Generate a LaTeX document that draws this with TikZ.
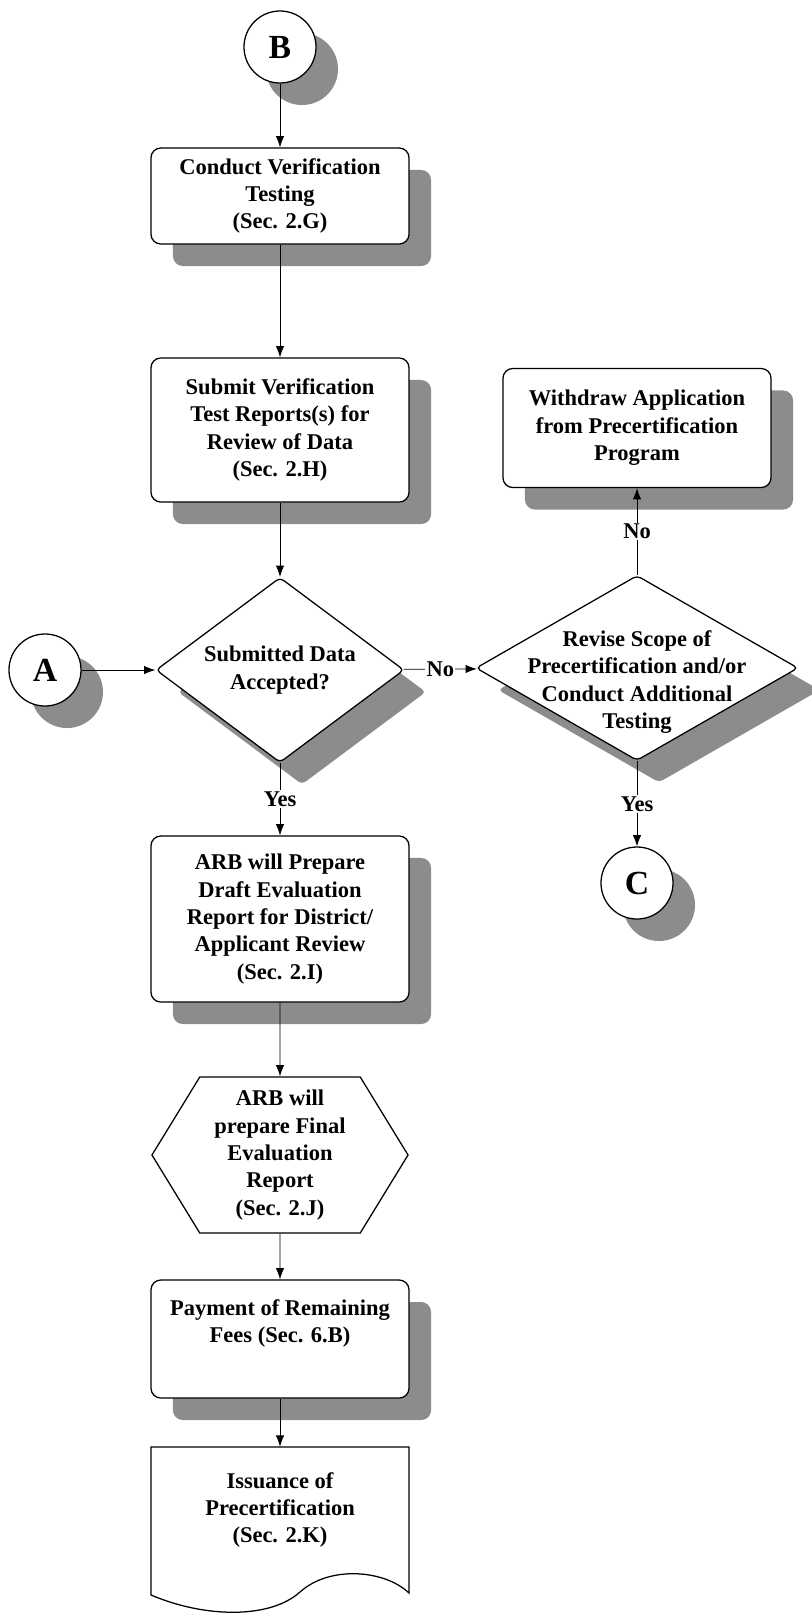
\documentclass[tikz,border=0pt]{standalone}
\usepackage{fontspec}
\setmainfont{Liberation Serif}
\usepackage{tikz}
\usetikzlibrary{arrows,arrows.meta,shapes.geometric,shapes.symbols,shadows}

\newcommand{\chartfont}{\bfseries\fontsize{16}{19.5}\selectfont}

\tikzset{
  boxshadow/.style={drop shadow={shadow xshift=0.55cm, shadow yshift=-0.55cm, fill=black!45, opacity=1}},
  process/.style={rectangle, rounded corners=7pt, draw, line width=0.9pt, fill=white,
    align=center, font=\chartfont, minimum width=6.45cm, inner sep=2pt, boxshadow},
  decision/.style={diamond, draw, line width=0.9pt, fill=white, rounded corners=3pt,
    minimum height=4.625cm, inner sep=0pt, boxshadow},
  dtext/.style={align=center, font=\chartfont, inner sep=0pt},
  hexa/.style={signal, signal to=west and east, signal pointer angle=117, draw, line width=0.9pt,
    fill=white, align=center, font=\chartfont, minimum width=6.4cm, minimum height=3.9cm, inner sep=2pt},
  doctext/.style={align=center, font=\chartfont, minimum width=6.45cm, minimum height=3.15cm},
  offpage/.style={circle, draw, line width=0.9pt, fill=white, minimum size=1.8cm, inner sep=0pt,
    font=\bfseries\fontsize{24}{24}\selectfont, boxshadow},
  conn/.style={-{Latex[length=8pt,width=6pt]}, line width=0.6pt},
  lbl/.style={fill=white, inner sep=1pt, font=\chartfont}
}

\begin{document}
\begin{tikzpicture}[x=0.025cm, y=-0.025cm]
        \useasboundingbox (0,0) rectangle (811,1613);

        % off-page connectors
        \node[offpage] (conB) at (280,47) {B};
        \node[offpage] (conA) at (45,670) {A};
        \node[offpage] (conC) at (637,883) {C};

        % main column
        \node[process, minimum height=2.4cm] (conduct) at (280,196) {Conduct Verification\\Testing\\(Sec. 2.G)};
        \node[process, minimum height=3.6cm] (submit) at (280,430) {Submit Verification\\Test Reports(s) for\\Review of Data\\(Sec. 2.H)};
        \node[decision, minimum width=6.2cm] (accepted) at (280,670) {};
        \node[dtext] (acceptedtxt) at (accepted) {Submitted Data\\Accepted?};
        \node[process, minimum height=4.15cm] (draft) at (280,919) {ARB will Prepare\\Draft Evaluation\\Report for District/\\Applicant Review\\(Sec. 2.I)};
        \node[hexa] (final) at (280,1155) {ARB will\\prepare Final\\Evaluation\\Report\\(Sec. 2.J)};
        \node[process, minimum height=2.95cm] (fees) at (280,1339) {Payment of Remaining\\Fees (Sec. 6.B)\\\strut};

        % document with wavy bottom
        \draw[line width=0.9pt, fill=white] (151,1447) -- (409,1447) -- (409,1593)
            .. controls (385,1570) and (330,1565) .. (300,1592)
            .. controls (270,1619) and (205,1618) .. (151,1595) -- cycle;
        \node[doctext] (issue) at (280,1510) {Issuance of\\Precertification\\(Sec. 2.K)};

        % right column
        \node[decision, minimum width=8.05cm] (revise) at (637,668) {};
        \node[dtext, yshift=-0.35cm] (revisetxt) at (revise) {Revise Scope of\\Precertification and/or\\Conduct Additional\\Testing};
        \node[process, minimum width=6.7cm, minimum height=2.975cm] (withdraw) at (637,428) {Withdraw Application\\from Precertification\\Program};

        % arcs down the main column
        \draw[conn] (conB) -- (conduct);
        \draw[conn] (conduct) -- (submit);
        \draw[conn] (submit) -- (accepted);
        \draw[conn] (conA) -- (accepted);
        \draw[conn] (accepted) -- node[lbl] {Yes} (draft);
        \draw[conn] (draft) -- (final);
        \draw[conn] (final) -- (fees);
        \draw[conn] (fees) -- (issue);

        % arcs to the right column
        \draw[conn] (accepted) -- node[lbl] {No} (revise);
        \draw[conn] (revise) -- node[lbl] {No} (withdraw);
        \draw[conn] (revise) -- node[lbl] {Yes} (conC);

\end{tikzpicture}
\end{document}
